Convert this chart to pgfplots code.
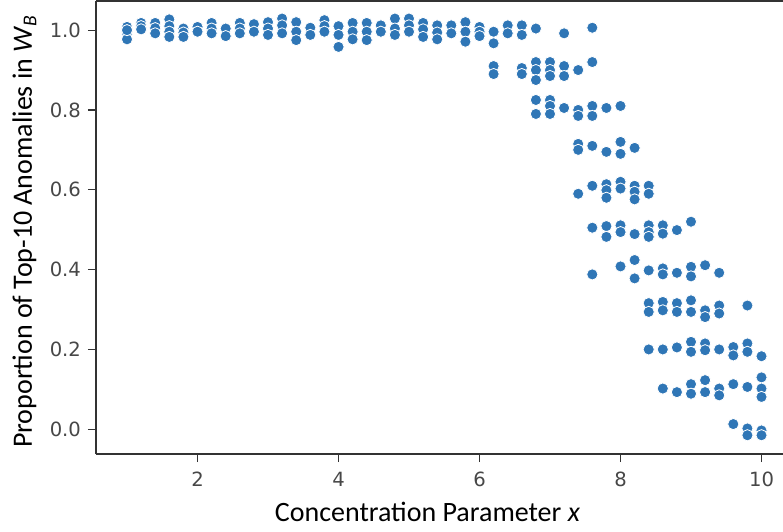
\documentclass[border=0pt]{standalone}
\usepackage{fontspec}
\setmainfont{Carlito}
\newfontfamily\tickfont{DejaVu Sans}
\usepackage{pgfplots}
\pgfplotsset{compat=1.18}
\definecolor{dotblue}{RGB}{47,118,182}

\begin{document}
\begin{tikzpicture}
\begin{axis}[
  scale only axis, width=343.5pt, height=226.5pt,
  xmin=0.56, xmax=10.305, ymin=-0.062, ymax=1.073,
  axis x line*=box, axis y line*=left,
  axis line style={black!80, line width=0.8pt},
  xtick={2,4,6,8,10}, ytick={0,0.2,0.4,0.6,0.8,1.0},
  xtick pos=bottom, tick align=outside,
  major tick length=4pt,
  every tick/.style={black!80, line width=0.6pt},
  /pgf/number format/assume math mode=true,
  ticklabel style={font=\tickfont\fontsize{9.8}{11}\selectfont, text=black!72},
  yticklabel style={/pgf/number format/fixed, /pgf/number format/fixed zerofill, /pgf/number format/precision=1, xshift=0pt},
  xticklabel style={yshift=-1.4pt},
  xlabel={Concentration Parameter \textit{x}},
  ylabel={Proportion of Top-10 Anomalies in \textit{W}\textsubscript{\textit{B}}},
  label style={font=\fontsize{14}{16}\selectfont},
  xlabel style={at={(axis description cs:0.4825,0)}, anchor=base, yshift=-33.9pt},
  ylabel style={at={(axis description cs:0,0.492)}, anchor=base, yshift=32pt},
  clip=false,
]
\addplot[only marks, mark=*, mark size=2.8pt,
  mark options={fill=dotblue, draw=white, line width=0.4pt}]
  table[row sep=\\] {
x y \\
1.0 1.008 \\ 1.0 0.992 \\ 1.0 0.977 \\ 1.0 1.000 \\
1.2 1.018 \\ 1.2 1.010 \\ 1.2 1.002 \\
1.4 1.018 \\ 1.4 1.005 \\ 1.4 0.992 \\
1.6 1.027 \\ 1.6 1.010 \\ 1.6 0.996 \\ 1.6 0.983 \\
1.8 1.004 \\ 1.8 0.994 \\ 1.8 0.983 \\
2.0 1.008 \\ 2.0 0.996 \\
2.2 1.018 \\ 2.2 1.004 \\ 2.2 0.992 \\
2.4 1.004 \\ 2.4 0.985 \\
2.6 1.018 \\ 2.6 1.004 \\ 2.6 0.992 \\
2.8 1.015 \\ 2.8 0.996 \\
3.0 1.020 \\ 3.0 1.004 \\ 3.0 0.988 \\
3.2 1.029 \\ 3.2 1.012 \\ 3.2 0.992 \\
3.4 1.020 \\ 3.4 0.996 \\ 3.4 0.975 \\
3.6 1.006 \\ 3.6 0.988 \\
3.8 1.025 \\ 3.8 1.010 \\ 3.8 0.996 \\
4.0 1.010 \\ 4.0 0.988 \\ 4.0 0.958 \\
4.2 1.018 \\ 4.2 0.996 \\ 4.2 0.977 \\
4.4 1.018 \\ 4.4 0.996 \\ 4.4 0.975 \\
4.6 1.012 \\ 4.6 0.996 \\
4.8 1.029 \\ 4.8 1.004 \\ 4.8 0.988 \\
5.0 1.029 \\ 5.0 1.012 \\ 5.0 0.996 \\
5.2 1.018 \\ 5.2 1.002 \\ 5.2 0.983 \\
5.4 1.012 \\ 5.4 0.994 \\ 5.4 0.977 \\
5.6 1.012 \\ 5.6 0.992 \\
5.8 1.020 \\ 5.8 0.996 \\ 5.8 0.971 \\
6.0 1.008 \\ 6.0 0.996 \\ 6.0 0.985 \\
6.2 0.996 \\ 6.2 0.967 \\ 6.2 0.910 \\ 6.2 0.890 \\
6.4 1.012 \\ 6.4 0.992 \\
6.6 1.012 \\ 6.6 0.988 \\ 6.6 0.905 \\ 6.6 0.890 \\
6.8 1.004 \\ 6.8 0.920 \\ 6.8 0.900 \\ 6.8 0.875 \\ 6.8 0.825 \\ 6.8 0.790 \\
7.0 0.920 \\ 7.0 0.900 \\ 7.0 0.885 \\ 7.0 0.825 \\ 7.0 0.810 \\ 7.0 0.790 \\
7.2 0.992 \\ 7.2 0.910 \\ 7.2 0.885 \\ 7.2 0.805 \\
7.4 0.900 \\ 7.4 0.800 \\ 7.4 0.785 \\ 7.4 0.715 \\ 7.4 0.700 \\ 7.4 0.590 \\
7.6 1.006 \\ 7.6 0.920 \\ 7.6 0.810 \\ 7.6 0.785 \\ 7.6 0.710 \\ 7.6 0.610 \\ 7.6 0.505 \\ 7.6 0.388 \\
7.8 0.805 \\ 7.8 0.695 \\ 7.8 0.614 \\ 7.8 0.599 \\ 7.8 0.580 \\ 7.8 0.509 \\ 7.8 0.482 \\
8.0 0.810 \\ 8.0 0.720 \\ 8.0 0.690 \\ 8.0 0.620 \\ 8.0 0.603 \\ 8.0 0.511 \\ 8.0 0.494 \\ 8.0 0.408 \\
8.2 0.705 \\ 8.2 0.610 \\ 8.2 0.595 \\ 8.2 0.576 \\ 8.2 0.489 \\ 8.2 0.424 \\ 8.2 0.378 \\
8.4 0.610 \\ 8.4 0.590 \\ 8.4 0.511 \\ 8.4 0.494 \\ 8.4 0.482 \\ 8.4 0.398 \\ 8.4 0.316 \\ 8.4 0.294 \\ 8.4 0.200 \\
8.6 0.511 \\ 8.6 0.490 \\ 8.6 0.403 \\ 8.6 0.388 \\ 8.6 0.319 \\ 8.6 0.298 \\ 8.6 0.200 \\ 8.6 0.102 \\
8.8 0.499 \\ 8.8 0.392 \\ 8.8 0.316 \\ 8.8 0.294 \\ 8.8 0.205 \\ 8.8 0.093 \\
9.0 0.520 \\ 9.0 0.407 \\ 9.0 0.383 \\ 9.0 0.323 \\ 9.0 0.294 \\ 9.0 0.219 \\ 9.0 0.194 \\ 9.0 0.113 \\ 9.0 0.089 \\
9.2 0.411 \\ 9.2 0.298 \\ 9.2 0.281 \\ 9.2 0.215 \\ 9.2 0.198 \\ 9.2 0.123 \\ 9.2 0.093 \\
9.4 0.392 \\ 9.4 0.310 \\ 9.4 0.290 \\ 9.4 0.200 \\ 9.4 0.102 \\ 9.4 0.085 \\
9.6 0.206 \\ 9.6 0.185 \\ 9.6 0.113 \\ 9.6 0.013 \\
9.8 0.310 \\ 9.8 0.215 \\ 9.8 0.194 \\ 9.8 0.106 \\ 9.8 0.002 \\ 9.8 -0.015 \\
10.0 0.183 \\ 10.0 0.130 \\ 10.0 0.102 \\ 10.0 0.081 \\ 10.0 -0.003 \\ 10.0 -0.015 \\
};
\end{axis}
\pgfresetboundingbox
\path[use as bounding box] ([shift={(-48pt,-38.5pt)}]current axis.south west) rectangle ([shift={(0pt,0.5pt)}]current axis.north east);
\end{tikzpicture}
\end{document}
